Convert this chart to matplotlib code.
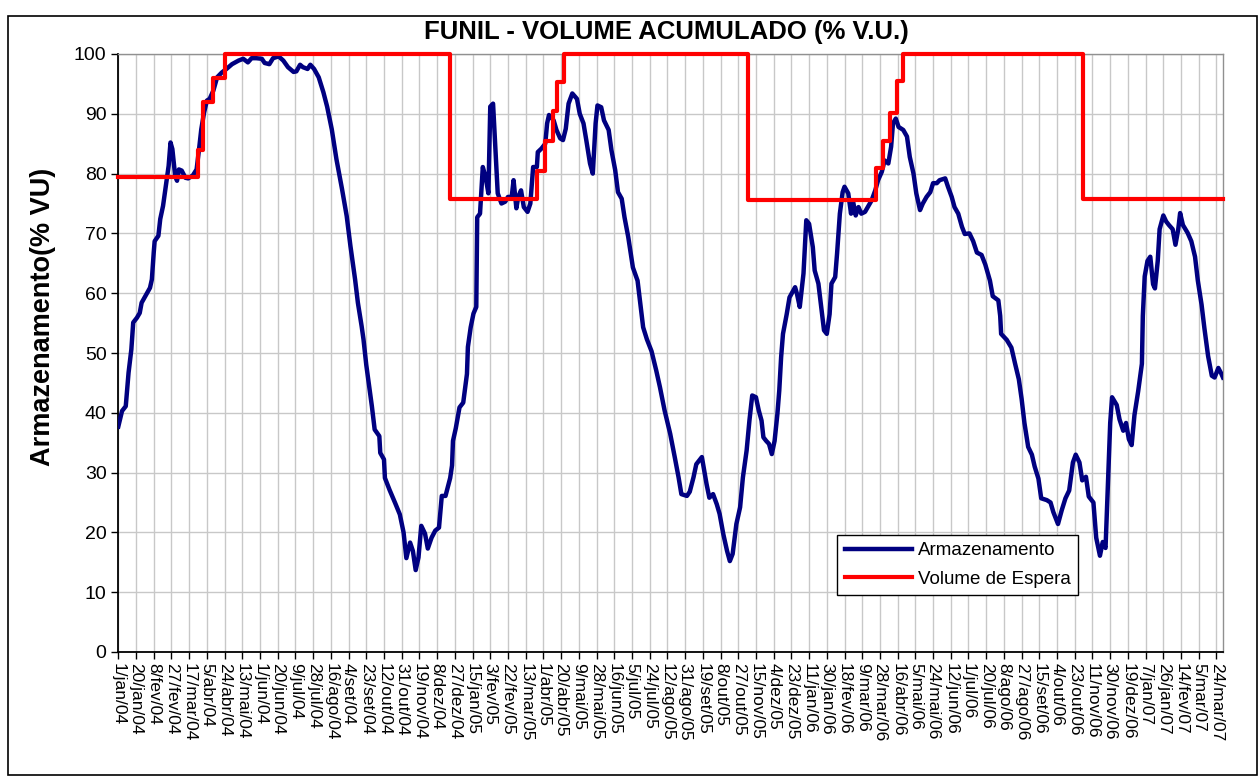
import numpy as np
import matplotlib
matplotlib.use('Agg')
import matplotlib.pyplot as plt
from matplotlib.patches import Rectangle

# Dados (dias contados a partir de 1/jan/04)
dias_arm = [
    0, 4, 8, 11, 14, 16, 20, 23, 25, 29, 34, 36, 38, 39, 43, 45, 48, 51, 54, 56,
    58, 61, 63, 65, 68, 72, 75, 80, 84, 87, 89, 92, 95, 98, 102, 106, 111, 116, 122, 129,
    134, 139, 143, 148, 154, 157, 162, 166, 172, 177, 182, 188, 191, 195, 198, 203, 206, 210, 215, 220,
    224, 229, 234, 240, 245, 249, 254, 257, 261, 263, 266, 272, 275, 280, 281, 285, 286, 291, 297, 302,
    306, 309, 313, 316, 319, 322, 325, 329, 332, 336, 340, 344, 347, 351, 356, 358, 359, 362, 366, 370,
    374, 375, 378, 381, 384, 385, 388, 391, 394, 397, 399, 402, 404, 407, 411, 415, 418, 422, 424, 427,
    429, 432, 435, 439, 442, 445, 449, 450, 454, 458, 460, 462, 467, 470, 474, 477, 480, 483, 487, 492,
    495, 499, 502, 506, 509, 512, 514, 518, 521, 526, 529, 533, 536, 540, 543, 547, 552, 557, 560, 563,
    567, 572, 577, 581, 586, 592, 597, 601, 604, 610, 613, 617, 620, 626, 631, 634, 638, 642, 645, 649,
    653, 656, 659, 663, 667, 670, 674, 677, 680, 684, 687, 690, 692, 695, 698, 701, 704, 707, 709, 711,
    713, 717, 720, 726, 728, 731, 735, 738, 741, 745, 747, 751, 754, 757, 760, 763, 765, 769, 771, 774,
    777, 779, 783, 786, 788, 791, 794, 797, 801, 804, 808, 812, 815, 819, 822, 826, 829, 831, 834, 837,
    842, 846, 849, 853, 856, 860, 863, 867, 871, 874, 878, 881, 887, 890, 894, 897, 901, 905, 908, 913,
    917, 921, 926, 930, 935, 938, 944, 946, 947, 953, 958, 962, 966, 969, 972, 976, 980, 983, 987, 990,
    996, 1000, 1003, 1008, 1012, 1016, 1020, 1024, 1027, 1031, 1034, 1038, 1041, 1046, 1049, 1053, 1056, 1059, 1062, 1064,
    1066, 1071, 1074, 1078, 1081, 1084, 1087, 1090, 1094, 1098, 1099, 1101, 1104, 1107, 1110, 1112, 1115, 1117, 1121, 1124,
    1127, 1131, 1134, 1137, 1139, 1142, 1147, 1151, 1155, 1158, 1162, 1165, 1169, 1173, 1176, 1180, 1183, 1185,
]
armazenamento = [
    37.7, 40.3, 41.1, 46.7, 50.6, 55.1, 55.9, 56.7, 58.4, 59.5, 60.9, 62.3, 66.8, 68.7, 69.6, 72.4, 74.6, 77.9, 81.3, 85.2,
    84.1, 79.6, 78.8, 80.7, 80.5, 79.3, 79.2, 79.7, 80.7, 84.6, 87.4, 90.2, 92.2, 92.5, 93.9, 96.1, 96.9, 97.5, 98.3, 98.9,
    99.2, 98.6, 99.3, 99.3, 99.2, 98.5, 98.3, 99.3, 99.6, 98.9, 97.8, 97.0, 97.1, 98.2, 97.8, 97.5, 98.2, 97.5, 96.1, 93.6,
    91.2, 87.4, 82.4, 77.4, 72.9, 67.9, 62.3, 58.4, 54.5, 52.3, 48.0, 41.1, 37.2, 36.1, 33.3, 32.2, 29.1, 27.1, 24.9, 23.0,
    20.0, 15.7, 18.3, 16.9, 13.7, 15.8, 21.1, 19.8, 17.3, 19.1, 20.3, 20.8, 26.1, 26.1, 29.1, 31.2, 35.3, 37.4, 40.9, 41.7,
    46.5, 51.0, 54.3, 56.6, 57.7, 72.7, 73.3, 81.1, 79.4, 76.7, 91.2, 91.7, 85.6, 76.7, 75.0, 75.3, 76.1, 76.1, 78.9, 74.2,
    76.1, 77.2, 74.4, 73.6, 75.0, 81.1, 81.1, 83.6, 84.2, 85.0, 88.4, 89.8, 88.9, 87.3, 85.9, 85.6, 87.5, 91.7, 93.4, 92.5,
    90.0, 88.4, 85.6, 81.7, 80.0, 88.4, 91.4, 91.1, 88.9, 87.3, 83.9, 80.6, 76.9, 75.8, 72.7, 69.4, 64.3, 62.1, 58.2, 54.3,
    52.3, 50.3, 47.1, 44.3, 40.4, 36.5, 32.5, 29.2, 26.4, 26.1, 26.8, 29.2, 31.4, 32.6, 28.1, 25.8, 26.4, 24.7, 23.1, 19.7,
    16.9, 15.2, 16.4, 21.4, 24.2, 29.2, 33.7, 38.7, 42.9, 42.6, 40.4, 38.7, 35.9, 35.3, 34.8, 33.1, 35.3, 39.8, 43.7, 49.3,
    53.2, 56.5, 59.3, 61.0, 59.9, 57.7, 63.3, 72.2, 71.6, 67.7, 63.8, 61.6, 57.7, 53.8, 53.2, 56.5, 61.6, 62.7, 66.6, 73.3,
    76.9, 77.8, 76.7, 73.3, 75.5, 73.0, 74.4, 73.3, 73.6, 74.4, 75.5, 77.2, 78.9, 80.3, 82.2, 81.7, 84.5, 88.4, 89.2, 87.8,
    87.3, 86.2, 82.8, 80.0, 76.7, 73.9, 75.0, 76.1, 76.9, 78.4, 78.4, 78.9, 79.2, 77.8, 76.1, 74.4, 73.3, 71.1, 69.9, 70.0,
    68.7, 66.8, 66.4, 64.8, 62.1, 59.5, 58.8, 56.2, 53.2, 52.2, 50.9, 48.2, 45.6, 42.3, 38.3, 34.3, 33.0, 31.0, 29.0, 25.7,
    25.4, 25.0, 23.4, 21.4, 23.7, 25.7, 27.0, 31.7, 33.0, 31.7, 28.7, 29.3, 26.0, 25.0, 19.1, 16.1, 18.4, 17.4, 29.7, 38.3,
    42.6, 41.3, 38.9, 37.0, 38.3, 35.6, 34.6, 39.6, 43.6, 48.2, 56.2, 62.8, 65.4, 66.1, 61.5, 60.8, 65.4, 70.7, 73.0, 72.0,
    71.4, 70.7, 68.1, 70.7, 73.4, 71.4, 70.1, 68.7, 66.1, 62.1, 58.1, 54.2, 49.5, 46.2, 45.9, 47.5, 46.6, 45.9,
]

dias_espera = [0, 86, 91, 102, 114, 356, 449, 458, 466, 471, 478, 676, 813, 820, 828, 835, 842, 1035, 1185]
volume_espera = [79.5, 84.0, 92.0, 96.0, 100, 75.8, 80.5, 85.5, 90.5, 95.4, 100, 75.6, 81.0, 85.5, 90.2, 95.5, 100, 75.8, 75.8]

meses = ['jan', 'fev', 'mar', 'abr', 'mai', 'jun', 'jul', 'ago', 'set', 'out', 'nov', 'dez']

inicio = np.datetime64('2004-01-01')
x_arm = inicio + np.array(dias_arm, dtype='timedelta64[D]')
x_esp = inicio + np.array(dias_espera, dtype='timedelta64[D]')
ticks = inicio + np.arange(0, 1179, 19).astype('timedelta64[D]')
tick_labels = []
for t in ticks.astype('datetime64[D]').astype(object):
    tick_labels.append(f"{t.day}/{meses[t.month - 1]}/{t.year % 100:02d}")

plt.rcParams['font.family'] = ['Liberation Sans', 'DejaVu Sans']

fig = plt.figure(figsize=(12.6, 7.76), dpi=100)
ax = fig.add_axes([118.3 / 1260, 1 - 652 / 776, (1223 - 118.3) / 1260, (652 - 54) / 776])

ax.plot(x_arm, armazenamento, color='#000080', linewidth=3.2, label='Armazenamento', zorder=3)
ax.plot(x_esp, volume_espera, color='#ff0000', linewidth=3.0, drawstyle='steps-post',
        label='Volume de Espera', zorder=4, clip_on=False)

ax.set_xlim(x_esp[0], x_esp[-1])
ax.set_ylim(0, 100)
ax.set_yticks(range(0, 101, 10))
ax.set_xticks(ticks)
ax.set_xticklabels(tick_labels, rotation=270, fontsize=12.5, va='top', ha='center')
ax.tick_params(axis='y', labelsize=14, length=5, width=1, direction='out')
ax.tick_params(axis='x', length=5, width=1, direction='out', pad=3)

ax.grid(True, color='#c8c8c8', linewidth=1.0)
ax.set_axisbelow(True)
for s in ['top', 'right']:
    ax.spines[s].set_color('#909090')
    ax.spines[s].set_linewidth(1.0)
for s in ['left', 'bottom']:
    ax.spines[s].set_color('black')
    ax.spines[s].set_linewidth(1.3)

ax.set_ylabel('Armazenamento(% VU)', fontsize=19.5, fontweight='bold')
ax.yaxis.set_label_coords(-0.056, 0.56)
fig.text(0.529, 0.959, 'FUNIL - VOLUME ACUMULADO (% V.U.)', ha='center', va='center',
         fontsize=18.5, fontweight='bold')

leg = ax.legend(loc='lower left', bbox_to_anchor=(0.651, 0.095), fontsize=13.5, frameon=True,
                fancybox=False, edgecolor='black', framealpha=1, handlelength=3.6,
                borderpad=0.4, labelspacing=0.6, handletextpad=0.3, borderaxespad=0)
leg.get_frame().set_linewidth(1.0)

# moldura externa do gráfico
fig.patches.append(Rectangle((8 / 1260, 1 / 776), 1249 / 1260, 759 / 776, transform=fig.transFigure,
                             fill=False, edgecolor='black', linewidth=1.2))

fig.savefig('out.png', dpi=100)
